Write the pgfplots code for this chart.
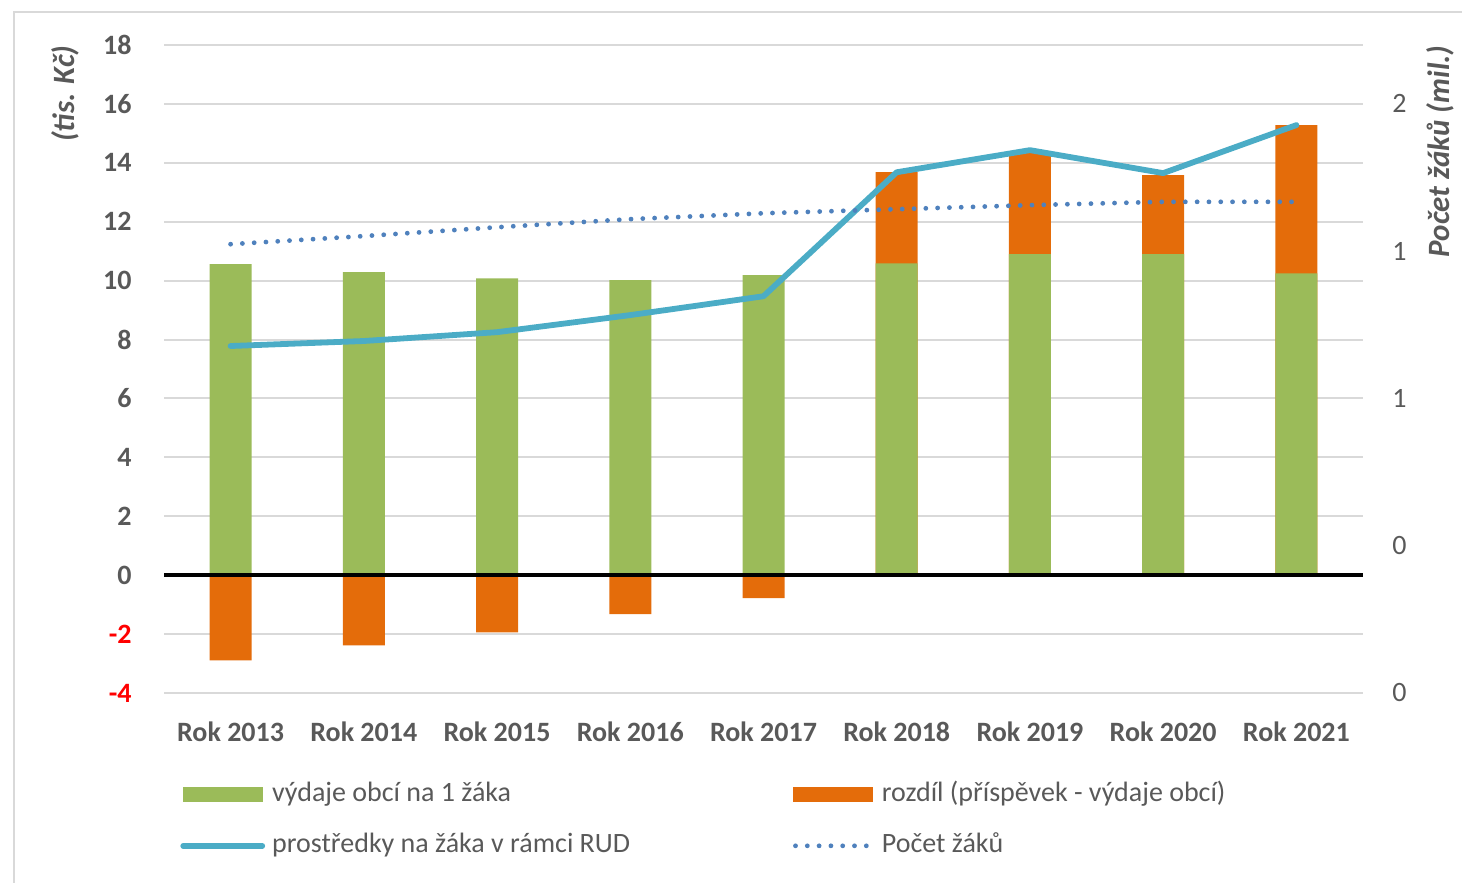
\documentclass[border=0pt]{standalone}
\usepackage{fontspec}
\setmainfont{Carlito}
\usepackage{pgfplots}
\pgfplotsset{compat=1.18}
\definecolor{cgreen}{HTML}{9BBB59}
\definecolor{corange}{HTML}{E46C0A}
\definecolor{cblue}{HTML}{4BACC6}
\definecolor{cdot}{HTML}{4F81BD}
\definecolor{cgrid}{HTML}{D9D9D9}
\definecolor{ctext}{HTML}{595959}
\begin{document}
\begin{tikzpicture}[x=1pt,y=1pt]
\path[use as bounding box] (0,0) rectangle (731,441.5);
\draw[cgrid, line width=1.3pt] (7,0) -- (7,435.5) -- (731,435.5);
\begin{axis}[
  at={(82pt,95pt)}, anchor=south west, scale only axis,
  width=599.5pt, height=324pt,
  xmin=-0.5, xmax=8.5, ymin=-4, ymax=18,
  xtick={0,...,8},
  xticklabels={Rok 2013,Rok 2014,Rok 2015,Rok 2016,Rok 2017,Rok 2018,Rok 2019,Rok 2020,Rok 2021},
  ytick={-4,-2,0,2,4,6,8,10,12,14,16,18},
  yticklabels={\textcolor{red}{-4},\textcolor{red}{-2},0,2,4,6,8,10,12,14,16,18},
  axis line style={draw=none}, tick style={draw=none},
  ymajorgrids, grid style={cgrid, line width=1pt},
  font=\fontsize{14}{16.8}\selectfont,
  ticklabel style={font=\fontsize{14}{16.8}\selectfont\bfseries, text=ctext, inner sep=0pt},
  yticklabel style={xshift=-16pt},
  xticklabel style={yshift=-14pt},
  clip=false,
]
\addplot[ybar, bar width=21pt, bar shift=0pt, fill=corange, draw=none]
  coordinates {(0,-2.89) (1,-2.38) (2,-1.94) (3,-1.32) (4,-0.78) (5,13.68) (6,14.33) (7,13.58) (8,15.28)};
\addplot[ybar, bar width=21pt, bar shift=0pt, fill=cgreen, draw=none]
  coordinates {(0,10.56) (1,10.29) (2,10.08) (3,10.02) (4,10.19) (5,10.59) (6,10.90) (7,10.90) (8,10.25)};
\draw[black, line width=2pt] (axis cs:-0.5,0) -- (axis cs:8.5,0);
\addplot[cblue, line width=2.9pt, line join=round, line cap=round]
  coordinates {(0,7.78) (1,7.95) (2,8.25) (3,8.83) (4,9.47) (5,13.68) (6,14.43) (7,13.65) (8,15.28)};
\end{axis}
\begin{axis}[
  at={(82pt,95pt)}, anchor=south west, scale only axis,
  width=599.5pt, height=324pt,
  xmin=-0.5, xmax=8.5, ymin=0, ymax=1.76,
  axis x line=none, axis y line*=right,
  y axis line style={draw=none}, tick style={draw=none},
  ytick={0,0.4,0.8,1.2,1.6}, yticklabels={0,0,1,1,2},
  font=\fontsize{14}{16.8}\selectfont,
  yticklabel style={font=\fontsize{14}{16.8}\selectfont, text=ctext, inner sep=0pt, xshift=14.5pt},
  legend columns=2,
  legend style={draw=none, fill=none, at={(axis description cs:0.0083,-0.1303)}, anchor=north west,
    nodes={inner sep=0pt, text height=10pt, text depth=3pt, text=ctext, font=\fontsize{14}{16.8}\selectfont},
    row sep=12.5pt, column sep=3.5pt, /tikz/column 2/.style={column sep=81.5pt}},
  legend cell align=left,
  clip=false,
]
\addlegendimage{legend image code/.code={\fill[cgreen] (0pt,-3.5pt) rectangle (39.5pt,3.5pt);}}
\addlegendentry{výdaje obcí na 1 žáka}
\addlegendimage{legend image code/.code={\fill[corange] (0pt,-3.5pt) rectangle (39.5pt,3.5pt);}}
\addlegendentry{rozdíl (příspěvek - výdaje obcí)}
\addlegendimage{legend image code/.code={\draw[cblue, line width=2.9pt, line cap=round] (0pt,0pt) -- (39.5pt,0pt);}}
\addlegendentry{prostředky na žáka v rámci RUD}
\addplot[cdot, line width=2.4pt, line cap=round, dash pattern=on 0pt off 5.9pt,
  legend image code/.code={\draw[cdot, line width=2.4pt, line cap=round, dash pattern=on 0pt off 5.9pt] (1pt,0pt) -- (39.5pt,0pt);}]
  coordinates {(0,1.219) (1,1.241) (2,1.265) (3,1.287) (4,1.303) (5,1.314) (6,1.325) (7,1.334) (8,1.334)};
\addlegendentry{Počet žáků}
\end{axis}
\node[rotate=90, anchor=east, inner sep=0pt, text=ctext, font=\fontsize{15.5}{18}\selectfont\bfseries\itshape] at (32.5,419) {(tis. Kč)};
\node[rotate=90, anchor=east, inner sep=0pt, text=ctext, font=\fontsize{15.5}{18}\selectfont\bfseries\itshape] at (720,419) {Počet žáků (mil.)};
\end{tikzpicture}
\end{document}
